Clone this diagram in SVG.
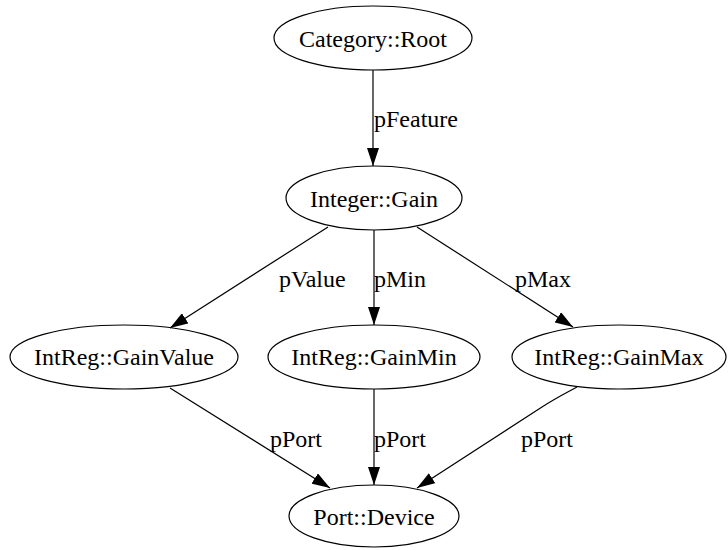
<svg xmlns="http://www.w3.org/2000/svg" width="728" height="550" viewBox="0 0 728 550">
<style>
.node ellipse{fill:none;stroke:#000;stroke-width:1.2}
.lbl{font-family:'Liberation Serif','Times New Roman','DejaVu Serif',serif;font-size:24px;fill:#000}
.node text{text-anchor:middle}
.edge{fill:none;stroke:#000;stroke-width:1.2;marker-end:url(#arr)}
</style>
<defs>
<marker id="arr" viewBox="0 0 18 12" refX="18" refY="6" markerWidth="18" markerHeight="12" markerUnits="userSpaceOnUse" orient="auto">
<path d="M0,0 L18,6 L0,12 z" fill="#000"/>
</marker>
</defs>
<rect width="728" height="550" fill="#fff"/>
<g id="connectors">
<path class="edge" d="M373,70 L373,166"/>
<path class="edge" d="M328,227 L170,328"/>
<path class="edge" d="M374,230 L374,325"/>
<path class="edge" d="M417,227 L573,327"/>
<path class="edge" d="M170,388 L330,488"/>
<path class="edge" d="M374,389 L374,485"/>
<path class="edge" d="M577,387 C566,393 556,398 542,407 L417,488"/>
<g class="lbl" font-family="Liberation Serif, serif">
<text x="374" y="127">pFeature</text>
<text x="279" y="287">pValue</text>
<text x="374" y="287">pMin</text>
<text x="515" y="287">pMax</text>
<text x="270" y="447">pPort</text>
<text x="374" y="447">pPort</text>
<text x="521" y="447">pPort</text>
</g>
</g>
<g class="lbl" font-family="Liberation Serif, serif">
<g id="category-root" class="node"><ellipse cx="373" cy="38" rx="99" ry="32"/><text x="373" y="47">Category::Root</text></g>
<g id="integer-gain" class="node"><ellipse cx="374" cy="198" rx="88" ry="32"/><text x="374" y="207">Integer::Gain</text></g>
<g id="intreg-gainvalue" class="node"><ellipse cx="124" cy="357" rx="114" ry="32"/><text x="124" y="365">IntReg::GainValue</text></g>
<g id="intreg-gainmin" class="node"><ellipse cx="374" cy="357" rx="106" ry="32"/><text x="374" y="365">IntReg::GainMin</text></g>
<g id="intreg-gainmax" class="node"><ellipse cx="619" cy="357" rx="107" ry="32"/><text x="619" y="365">IntReg::GainMax</text></g>
<g id="port-device" class="node"><ellipse cx="374" cy="516" rx="85" ry="31"/><text x="374" y="525">Port::Device</text></g>
</g>
</svg>
